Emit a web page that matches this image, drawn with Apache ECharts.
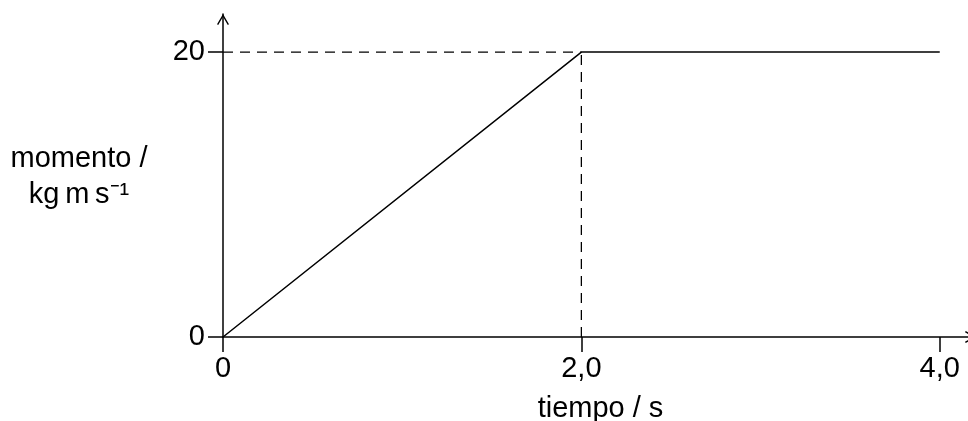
<!DOCTYPE html>
<html>
<head>
<meta charset="utf-8">
<script src="https://cdn.jsdelivr.net/npm/echarts@6/dist/echarts.min.js"></script>
<style>
  html, body { margin: 0; padding: 0; background: #fff; }
  #chart { width: 968px; height: 421px; }
</style>
</head>
<body>
<div id="chart"></div>
<script>
// momento frente a tiempo
var tiempo = [0, 2.0, 4.0];
var momento = [0, 20, 20];

// ticks and their labels
var xTicks = [0, 2, 4];
var xTickLabels = {0: '0', 2: '2,0', 4: '4,0'};
var yTicks = [0, 20];

// dashed guide lines to the corner (2,0 ; 20)
var guideH = [[0, 20], [2.0, 20]];
var guideV = [[2.0, 0], [2.0, 20]];

var FONT = 'Liberation Sans, Arial, sans-serif';
var FS = 29;

// open chevron arrowhead, tip up
var ARROW = 'path://M5,0 L10,8.6 L9,9.2 L5,2.3 L1,9.2 L0,8.6 Z';

var chart = echarts.init(document.getElementById('chart'));

var axisLine = function (endOffset) {
    return {
        show: true,
        onZero: false,
        symbol: ['none', ARROW],
        symbolSize: [13, 11],
        symbolOffset: [0, endOffset],
        lineStyle: {color: '#000', width: 1.5}
    };
};

var option = {
    animation: false,
    backgroundColor: '#fff',
    textStyle: {fontFamily: FONT},
    grid: {
        left: 223,
        right: -4,
        top: 14,
        bottom: 84,
        containLabel: false,
        outerBoundsMode: 'none'
    },
    xAxis: {
        type: 'value',
        min: 0,
        max: 4.18,
        splitLine: {show: false},
        // arrow mostly runs off the right edge, like the original
        axisLine: axisLine(-1.5),
        axisTick: {
            show: true,
            length: 15,
            customValues: xTicks,
            lineStyle: {color: '#000', width: 1.5}
        },
        axisLabel: {
            customValues: xTicks,
            margin: 17,
            color: '#000',
            fontSize: FS,
            fontFamily: FONT,
            formatter: function (v) {
                return xTickLabels[v] !== undefined ? xTickLabels[v] : '';
            }
        },
        name: 'tiempo / s',
        nameLocation: 'middle',
        nameGap: 57,
        nameTextStyle: {
            color: '#000',
            fontSize: FS,
            fontFamily: FONT,
            padding: [0, 0, 0, 6]
        }
    },
    yAxis: {
        type: 'value',
        min: 0,
        max: 22.67,
        splitLine: {show: false},
        axisLine: axisLine(-5.5),
        axisTick: {
            show: true,
            length: 15,
            customValues: yTicks,
            lineStyle: {color: '#000', width: 1.5}
        },
        axisLabel: {
            customValues: yTicks,
            margin: 18,
            color: '#000',
            fontSize: FS,
            fontFamily: FONT
        }
    },
    graphic: [
        {
            type: 'text',
            x: 79,
            y: 144,
            style: {
                text: 'momento /',
                fill: '#000',
                font: FS + 'px ' + FONT,
                align: 'center',
                verticalAlign: 'top'
            }
        },
        {
            type: 'text',
            x: 79,
            y: 180,
            style: {
                text: 'kg\u2009m\u2009s\u207B\u00B9',
                fill: '#000',
                font: FS + 'px ' + FONT,
                align: 'center',
                verticalAlign: 'top'
            }
        }
    ],
    series: [
        {
            type: 'line',
            data: tiempo.map(function (t, i) {
                return [t, momento[i]];
            }),
            symbol: 'none',
            lineStyle: {color: '#000', width: 1.5},
            z: 3
        },
        {
            type: 'line',
            data: guideH,
            symbol: 'none',
            lineStyle: {color: '#000', width: 1.3, type: [10, 7]}
        },
        {
            type: 'line',
            data: guideV,
            symbol: 'none',
            lineStyle: {color: '#000', width: 1.3, type: [10, 7]}
        }
    ]
};

chart.setOption(option);
</script>
</body>
</html>
